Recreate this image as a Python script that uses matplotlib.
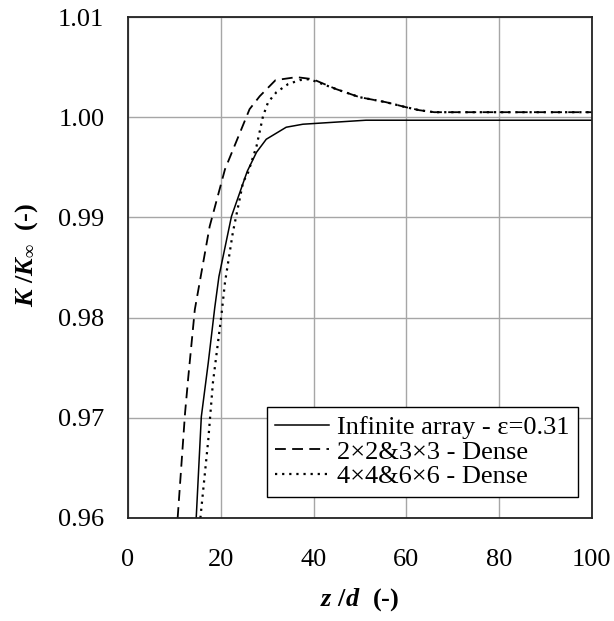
import numpy as np
import matplotlib
matplotlib.use("Agg")
import matplotlib.pyplot as plt

plt.rcParams['font.family'] = ['Liberation Serif', 'DejaVu Serif']
plt.rcParams['mathtext.fontset'] = 'custom'
plt.rcParams['mathtext.rm'] = 'Liberation Serif:bold'
plt.rcParams['mathtext.it'] = 'Liberation Serif:italic:bold'
plt.rcParams['mathtext.bf'] = 'Liberation Serif:bold'

# infinite array, eps = 0.31
inf_z = [14.7, 15.8, 17.3, 18.7, 19.6, 22.3, 25.7, 27.7, 29.8, 34.1, 37.7, 51.3, 100.0]
inf_k = [0.9600, 0.9701, 0.9755, 0.9810, 0.9841, 0.9901, 0.9946, 0.9965, 0.9978, 0.9990, 0.9993, 0.9997, 0.9997]

# 2x2 & 3x3 dense
d23_z = [10.7, 12.3, 13.0, 14.4, 17.6, 20.9, 26.2, 28.4, 31.8, 36.3, 39.8, 44.9, 49.9, 55.6, 59.9, 62.8, 66.0, 100.0]
d23_k = [0.9600, 0.9705, 0.9741, 0.9808, 0.9891, 0.9948, 1.0008, 1.0021, 1.0037, 1.0040, 1.0038, 1.0028, 1.0020, 1.0015, 1.0010, 1.0007, 1.0005, 1.0005]

# 4x4 & 6x6 dense
d46_z = [15.6, 17.3, 18.3, 20.1, 20.9, 22.6, 24.8, 25.9, 27.7, 29.1, 30.2, 32.0, 34.5, 37.0, 39.1, 44.9, 49.9, 55.6, 59.9, 62.8, 66.0, 100.0]
d46_k = [0.9600, 0.9678, 0.9735, 0.9801, 0.9835, 0.9885, 0.9935, 0.9945, 0.9971, 1.0001, 1.0015, 1.0025, 1.0033, 1.0037, 1.0038, 1.0028, 1.0020, 1.0015, 1.0010, 1.0007, 1.0005, 1.0005]

fig = plt.figure(figsize=(6.14, 6.21), dpi=100)
ax = fig.add_axes([0.2085, 0.1659, 0.7555, 0.8067])

ax.plot(inf_z, inf_k, color='black', lw=1.1, label='Infinite array - ε=0.31')
ax.plot(d23_z, d23_k, color='black', lw=1.3, dashes=(6, 3.5), label='2×2&3×3 - Dense')
ax.plot(d46_z, d46_k, color='black', lw=1.6, dashes=(1, 2.2), label='4×4&6×6 - Dense')

ax.set_xlim(0, 100)
ax.set_ylim(0.96, 1.01)
ax.set_xticks(np.arange(0, 101, 20))
ax.set_yticks(np.arange(0.96, 1.0101, 0.01))
ax.set_yticklabels(['0.96', '0.97', '0.98', '0.99', '1.00', '1.01'])
ax.grid(True, color='#a6a6a6', lw=1.0)
ax.set_axisbelow(True)
ax.tick_params(length=0, labelsize=19)
ax.tick_params(axis='x', pad=22)
ax.tick_params(axis='y', pad=17)
for s in ax.spines.values():
    s.set_linewidth(1.3)
    s.set_color('#222222')

ax.set_xlabel(r'$z\ /d\ \ \mathbf{(\text{-})}$', fontsize=19, labelpad=11)
ax.set_ylabel(r'$K\ /K_{\infty}\ \ \mathbf{(\text{-})}$', fontsize=19)
ax.yaxis.set_label_coords(-0.19, 0.526)

leg = ax.legend(loc='lower right', bbox_to_anchor=(0.970, 0.042), fontsize=19,
                frameon=True, fancybox=False, edgecolor='black', framealpha=1,
                handlelength=2.05, handletextpad=0.3, borderpad=0.32, labelspacing=0.05,
                borderaxespad=0)
leg.get_frame().set_linewidth(1.0)

fig.savefig('out.png', dpi=100)
